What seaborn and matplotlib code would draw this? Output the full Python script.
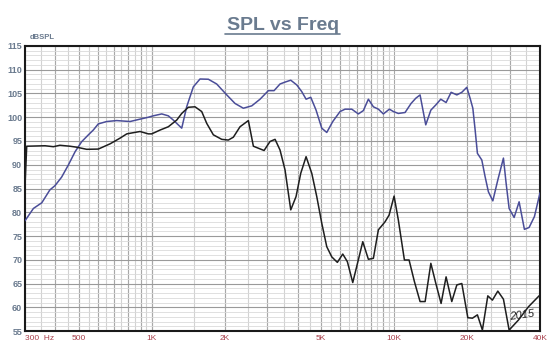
import numpy as np
import pandas as pd
import matplotlib
matplotlib.use("Agg")
import matplotlib.pyplot as plt
import seaborn as sns

# black trace (Hz, dB)
black_freq = [300, 305, 363, 393, 418, 460, 490, 539, 602, 673, 706, 740, 789, 840, 895,
              968, 1000, 1082, 1171, 1268, 1330, 1416, 1509, 1608, 1687, 1796, 1945, 2071,
              2172, 2314, 2505, 2627, 2908, 3078, 3228, 3384, 3549, 3747, 3940, 4120, 4334,
              4575, 4797, 5030, 5275, 5533, 5834, 6141, 6416, 6753, 7123, 7427, 7833, 8214,
              8614, 9180, 9536, 10000, 10410, 11030, 11530, 12130, 12800, 13430, 14180,
              14870, 15630, 16390, 17300, 18150, 19030, 20150, 21050, 22070, 23140, 24360,
              25450, 26790, 28260, 29830, 32580, 35840, 40000]
black_db = [85.4, 93.9, 94.0, 93.8, 94.1, 93.9, 93.7, 93.25, 93.3, 94.4, 95.0, 95.6, 96.5,
            96.75, 97.0, 96.5, 96.5, 97.3, 98.0, 99.4, 100.8, 102.1, 102.2, 101.2, 98.7,
            96.3, 95.35, 95.2, 95.8, 98.0, 99.3, 93.9, 93.0, 94.9, 95.35, 93.1, 88.9, 80.5,
            83.3, 88.2, 91.7, 88.2, 83.3, 77.7, 72.75, 70.6, 69.45, 71.2, 69.6, 65.2, 70.0,
            73.8, 70.1, 70.3, 76.3, 78.0, 79.4, 83.4, 78.4, 69.95, 69.95, 65.4, 61.2, 61.2,
            69.25, 65.0, 60.8, 66.4, 61.2, 64.7, 65.0, 57.8, 57.7, 58.4, 55.2, 62.4, 61.5,
            63.4, 61.7, 55.2, 57.3, 60.1, 62.6]

# blue trace (Hz, dB)
blue_freq = [300, 325, 352, 380, 399, 425, 453, 483, 514, 548, 574, 602, 652, 717, 814, 895,
             968, 1015, 1100, 1171, 1228, 1330, 1394, 1485, 1582, 1713, 1854, 2040, 2207,
             2388, 2587, 2799, 3029, 3197, 3384, 3549, 3747, 3967, 4159, 4334, 4531, 4766,
             5030, 5275, 5585, 5985, 6277, 6690, 7123, 7469, 7833, 8214, 8614, 9033, 9563,
             9934, 10410, 11100, 11750, 12290, 12800, 13510, 14180, 14870, 15580, 16390,
             17190, 18150, 19030, 19950, 20590, 21130, 21600, 22070, 23010, 23740, 24500,
             25550, 26790, 28260, 28990, 29830, 31280, 32800, 34490, 36070, 37940, 40000]
blue_db = [78.2, 80.8, 82.0, 84.7, 85.6, 87.4, 89.95, 92.75, 94.85, 96.3, 97.3, 98.6, 99.1,
           99.3, 99.1, 99.6, 100.0, 100.3, 100.7, 100.3, 99.4, 97.7, 102.2, 106.4, 108.05,
           108.0, 107.0, 104.7, 102.9, 101.9, 102.4, 103.8, 105.6, 105.6, 107.0, 107.4,
           107.8, 106.8, 105.4, 103.8, 104.2, 101.5, 97.7, 96.8, 99.1, 101.2, 101.7, 101.7,
           100.7, 101.4, 103.8, 102.2, 101.7, 100.7, 101.7, 101.2, 100.8, 101.0, 102.9,
           104.0, 104.7, 98.4, 101.5, 102.6, 103.8, 103.1, 105.25, 104.7, 105.25, 106.3,
           104.0, 101.9, 97.3, 92.4, 91.0, 87.5, 84.3, 82.4, 86.8, 91.4, 86.1, 80.8, 78.9,
           82.2, 76.4, 76.8, 79.1, 84.1]

x_ticks = [300, 500, 1000, 2000, 5000, 10000, 20000, 40000]
x_labels = ["300  Hz", "500", "1K", "2K", "5K", "10K", "20K", "40K"]
y_ticks = list(range(55, 116, 5))

minor_freqs = (list(range(350, 1000, 50)) + list(range(1500, 10000, 500))
               + list(range(15000, 40000, 5000)))
major_freqs = [400, 600, 700, 800, 900, 1000, 3000, 4000, 6000, 7000, 8000, 9000, 30000]

sns.set_style("white")
plt.rcParams["font.family"] = ["Liberation Sans", "DejaVu Sans"]

df = pd.concat([
    pd.DataFrame({"freq": blue_freq, "spl": blue_db, "trace": "blue"}),
    pd.DataFrame({"freq": black_freq, "spl": black_db, "trace": "black"}),
])

fig = plt.figure(figsize=(5.6, 3.56), dpi=100)
ax = fig.add_axes([0.0446, 0.0702, 0.9197, 0.8006])

# grid
for f in minor_freqs:
    ax.axvline(f, color="#d2d2d2", lw=0.8, zorder=0)
for f in major_freqs + x_ticks:
    ax.axvline(f, color="#a8a8a8", lw=0.8, zorder=0)
for v in range(55, 116):
    ax.axhline(v, color="#dadada", lw=0.6, zorder=0)
for v in y_ticks:
    ax.axhline(v, color="#9a9a9a", lw=0.8, zorder=0)

sns.lineplot(data=df, x="freq", y="spl", hue="trace",
             palette={"blue": "#4a4d98", "black": "#1e1e1e"},
             linewidth=1.1, legend=False, sort=False, estimator=None, ax=ax, zorder=3)

ax.set_xscale("log")
ax.set_xlim(300, 40000)
ax.set_ylim(55, 115)
ax.set_xticks(x_ticks)
ax.set_xticklabels(x_labels)
ax.xaxis.set_minor_locator(matplotlib.ticker.NullLocator())
ax.set_yticks(y_ticks)
ax.set_xlabel("")
ax.set_ylabel("")
ax.tick_params(axis="x", length=0, pad=3, labelsize=6, labelcolor="#a8404c")
ax.tick_params(axis="y", length=0, pad=2, labelsize=6.5, labelcolor="#6a7a8e")
for lab in ax.get_yticklabels():
    lab.set_fontweight("bold")
ax.get_xticklabels()[0].set_horizontalalignment("left")

for side in ["left", "bottom", "top", "right"]:
    ax.spines[side].set_visible(True)
    ax.spines[side].set_color("#1a1a1a")
    ax.spines[side].set_linewidth(1.5)

fig.text(0.505, 0.915, "SPL vs Freq", ha="center", va="baseline", fontsize=14,
         fontweight="bold", color="#6a7b8f")
fig.add_artist(plt.Line2D([0.402, 0.608], [0.905, 0.905], color="#6a7b8f", lw=1.2))
fig.text(0.054, 0.884, "dBSPL", ha="left", va="bottom", fontsize=5.5,
         fontweight="bold", color="#6a7a8e")
ax.text(0.965, 0.03, "2015", transform=ax.transAxes, ha="center", va="bottom",
        fontsize=8, style="italic", color="#222222", rotation=8, zorder=5)

fig.savefig("out.png", dpi=100)
